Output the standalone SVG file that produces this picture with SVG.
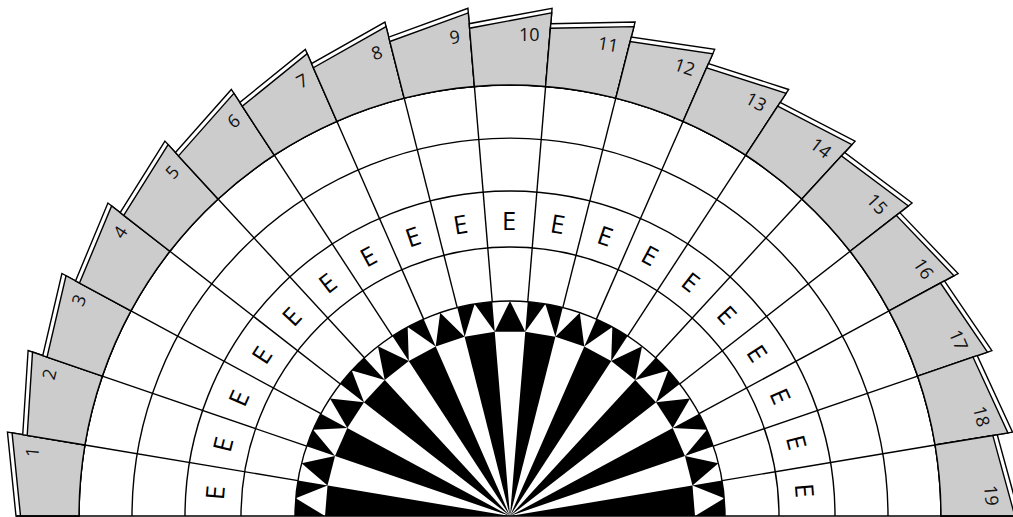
<svg xmlns="http://www.w3.org/2000/svg" xmlns:xlink="http://www.w3.org/1999/xlink" width="1013" height="517" viewBox="0 0 1013 517">
<style>
.ln{fill:none;stroke:#000;stroke-width:1.4}
.tabw{fill:#fff;stroke:#000;stroke-width:1.4;stroke-linejoin:miter}
.tabg{fill:#cccccc;stroke:#000;stroke-width:1.4}
.blk{fill:#000}
.wht{fill:#fff}
.num{font-family:"Open Sans","Liberation Sans",sans-serif;font-size:18px;fill:#111;text-anchor:end}
.e{font-family:"Open Sans","Liberation Sans",sans-serif;font-size:25.5px;fill:#000;text-anchor:middle}
</style>
<defs>
<path id="wedge" d="M0,0 L-17.754,-214.266 A215,215 0 0 1 17.754,-214.266 Z"/>
<path id="tri" d="M-15.277,-184.368 L0,-215 L15.277,-184.368 Z"/>
<path id="tabOuter" d="M-35.592,-429.528 L-40.794,-492.313 L42.074,-507.760 L35.592,-429.528 A431,431 0 0 0 -35.592,-429.528 Z"/>
<path id="tabInner" d="M-35.592,-429.528 L-40.420,-487.803 L41.689,-503.110 L35.592,-429.528 A431,431 0 0 0 -35.592,-429.528 Z"/>
<line id="spoke" x1="17.754" y1="-214.266" x2="35.592" y2="-429.528"/>
</defs>
<g transform="translate(510,516)">
<g id="fan">
<g transform="rotate(-85.2632)"><use xlink:href="#wedge" class="blk"/><use xlink:href="#tri" class="wht"/></g>
<g transform="rotate(-75.7895)"><use xlink:href="#tri" class="blk"/></g>
<g transform="rotate(-66.3158)"><use xlink:href="#wedge" class="blk"/><use xlink:href="#tri" class="wht"/></g>
<g transform="rotate(-56.8421)"><use xlink:href="#tri" class="blk"/></g>
<g transform="rotate(-47.3684)"><use xlink:href="#wedge" class="blk"/><use xlink:href="#tri" class="wht"/></g>
<g transform="rotate(-37.8947)"><use xlink:href="#tri" class="blk"/></g>
<g transform="rotate(-28.4211)"><use xlink:href="#wedge" class="blk"/><use xlink:href="#tri" class="wht"/></g>
<g transform="rotate(-18.9474)"><use xlink:href="#tri" class="blk"/></g>
<g transform="rotate(-9.4737)"><use xlink:href="#wedge" class="blk"/><use xlink:href="#tri" class="wht"/></g>
<g transform="rotate(0)"><use xlink:href="#tri" class="blk"/></g>
<g transform="rotate(9.4737)"><use xlink:href="#wedge" class="blk"/><use xlink:href="#tri" class="wht"/></g>
<g transform="rotate(18.9474)"><use xlink:href="#tri" class="blk"/></g>
<g transform="rotate(28.4211)"><use xlink:href="#wedge" class="blk"/><use xlink:href="#tri" class="wht"/></g>
<g transform="rotate(37.8947)"><use xlink:href="#tri" class="blk"/></g>
<g transform="rotate(47.3684)"><use xlink:href="#wedge" class="blk"/><use xlink:href="#tri" class="wht"/></g>
<g transform="rotate(56.8421)"><use xlink:href="#tri" class="blk"/></g>
<g transform="rotate(66.3158)"><use xlink:href="#wedge" class="blk"/><use xlink:href="#tri" class="wht"/></g>
<g transform="rotate(75.7895)"><use xlink:href="#tri" class="blk"/></g>
<g transform="rotate(85.2632)"><use xlink:href="#wedge" class="blk"/><use xlink:href="#tri" class="wht"/></g>
</g>
<g id="grid" class="ln">
<path d="M-215,0 A215,215 0 0 1 215,0"/>
<path d="M-269,0 A269,269 0 0 1 269,0"/>
<path d="M-325,0 A325,325 0 0 1 325,0"/>
<path d="M-378,0 A378,378 0 0 1 378,0"/>
<path d="M-431,0 A431,431 0 0 1 431,0"/>
<use xlink:href="#spoke" transform="rotate(-85.2632)"/>
<use xlink:href="#spoke" transform="rotate(-75.7895)"/>
<use xlink:href="#spoke" transform="rotate(-66.3158)"/>
<use xlink:href="#spoke" transform="rotate(-56.8421)"/>
<use xlink:href="#spoke" transform="rotate(-47.3684)"/>
<use xlink:href="#spoke" transform="rotate(-37.8947)"/>
<use xlink:href="#spoke" transform="rotate(-28.4211)"/>
<use xlink:href="#spoke" transform="rotate(-18.9474)"/>
<use xlink:href="#spoke" transform="rotate(-9.4737)"/>
<use xlink:href="#spoke" transform="rotate(0)"/>
<use xlink:href="#spoke" transform="rotate(9.4737)"/>
<use xlink:href="#spoke" transform="rotate(18.9474)"/>
<use xlink:href="#spoke" transform="rotate(28.4211)"/>
<use xlink:href="#spoke" transform="rotate(37.8947)"/>
<use xlink:href="#spoke" transform="rotate(47.3684)"/>
<use xlink:href="#spoke" transform="rotate(56.8421)"/>
<use xlink:href="#spoke" transform="rotate(66.3158)"/>
<use xlink:href="#spoke" transform="rotate(75.7895)"/>
</g>
<g id="tab-1" transform="rotate(-85.2632)"><use xlink:href="#tabOuter" class="tabw"/><use xlink:href="#tabInner" class="tabg"/><text class="num" x="29.5" y="-475">1</text><text class="e" x="-1" y="-286.5">E</text></g>
<g id="tab-2" transform="rotate(-75.7895)"><use xlink:href="#tabOuter" class="tabw"/><use xlink:href="#tabInner" class="tabg"/><text class="num" x="29.5" y="-475">2</text><text class="e" x="-1" y="-286.5">E</text></g>
<g id="tab-3" transform="rotate(-66.3158)"><use xlink:href="#tabOuter" class="tabw"/><use xlink:href="#tabInner" class="tabg"/><text class="num" x="29.5" y="-475">3</text><text class="e" x="-1" y="-286.5">E</text></g>
<g id="tab-4" transform="rotate(-56.8421)"><use xlink:href="#tabOuter" class="tabw"/><use xlink:href="#tabInner" class="tabg"/><text class="num" x="29.5" y="-475">4</text><text class="e" x="-1" y="-286.5">E</text></g>
<g id="tab-5" transform="rotate(-47.3684)"><use xlink:href="#tabOuter" class="tabw"/><use xlink:href="#tabInner" class="tabg"/><text class="num" x="29.5" y="-475">5</text><text class="e" x="-1" y="-286.5">E</text></g>
<g id="tab-6" transform="rotate(-37.8947)"><use xlink:href="#tabOuter" class="tabw"/><use xlink:href="#tabInner" class="tabg"/><text class="num" x="29.5" y="-475">6</text><text class="e" x="-1" y="-286.5">E</text></g>
<g id="tab-7" transform="rotate(-28.4211)"><use xlink:href="#tabOuter" class="tabw"/><use xlink:href="#tabInner" class="tabg"/><text class="num" x="29.5" y="-475">7</text><text class="e" x="-1" y="-286.5">E</text></g>
<g id="tab-8" transform="rotate(-18.9474)"><use xlink:href="#tabOuter" class="tabw"/><use xlink:href="#tabInner" class="tabg"/><text class="num" x="29.5" y="-475">8</text><text class="e" x="-1" y="-286.5">E</text></g>
<g id="tab-9" transform="rotate(-9.4737)"><use xlink:href="#tabOuter" class="tabw"/><use xlink:href="#tabInner" class="tabg"/><text class="num" x="29.5" y="-475">9</text><text class="e" x="-1" y="-286.5">E</text></g>
<g id="tab-10" transform="rotate(0)"><use xlink:href="#tabOuter" class="tabw"/><use xlink:href="#tabInner" class="tabg"/><text class="num" x="29.5" y="-475">10</text><text class="e" x="-1" y="-286.5">E</text></g>
<g id="tab-11" transform="rotate(9.4737)"><use xlink:href="#tabOuter" class="tabw"/><use xlink:href="#tabInner" class="tabg"/><text class="num" x="29.5" y="-475">11</text><text class="e" x="-1" y="-286.5">E</text></g>
<g id="tab-12" transform="rotate(18.9474)"><use xlink:href="#tabOuter" class="tabw"/><use xlink:href="#tabInner" class="tabg"/><text class="num" x="29.5" y="-475">12</text><text class="e" x="-1" y="-286.5">E</text></g>
<g id="tab-13" transform="rotate(28.4211)"><use xlink:href="#tabOuter" class="tabw"/><use xlink:href="#tabInner" class="tabg"/><text class="num" x="29.5" y="-475">13</text><text class="e" x="-1" y="-286.5">E</text></g>
<g id="tab-14" transform="rotate(37.8947)"><use xlink:href="#tabOuter" class="tabw"/><use xlink:href="#tabInner" class="tabg"/><text class="num" x="29.5" y="-475">14</text><text class="e" x="-1" y="-286.5">E</text></g>
<g id="tab-15" transform="rotate(47.3684)"><use xlink:href="#tabOuter" class="tabw"/><use xlink:href="#tabInner" class="tabg"/><text class="num" x="29.5" y="-475">15</text><text class="e" x="-1" y="-286.5">E</text></g>
<g id="tab-16" transform="rotate(56.8421)"><use xlink:href="#tabOuter" class="tabw"/><use xlink:href="#tabInner" class="tabg"/><text class="num" x="29.5" y="-475">16</text><text class="e" x="-1" y="-286.5">E</text></g>
<g id="tab-17" transform="rotate(66.3158)"><use xlink:href="#tabOuter" class="tabw"/><use xlink:href="#tabInner" class="tabg"/><text class="num" x="29.5" y="-475">17</text><text class="e" x="-1" y="-286.5">E</text></g>
<g id="tab-18" transform="rotate(75.7895)"><use xlink:href="#tabOuter" class="tabw"/><use xlink:href="#tabInner" class="tabg"/><text class="num" x="29.5" y="-475">18</text><text class="e" x="-1" y="-286.5">E</text></g>
<g id="tab-19" transform="rotate(85.2632)"><use xlink:href="#tabOuter" class="tabw"/><use xlink:href="#tabInner" class="tabg"/><text class="num" x="29.5" y="-475">19</text><text class="e" x="-1" y="-286.5">E</text></g>
<line id="baseline" class="ln" x1="-494" y1="0" x2="503" y2="0" stroke-width="1.8"/>
</g>
</svg>
